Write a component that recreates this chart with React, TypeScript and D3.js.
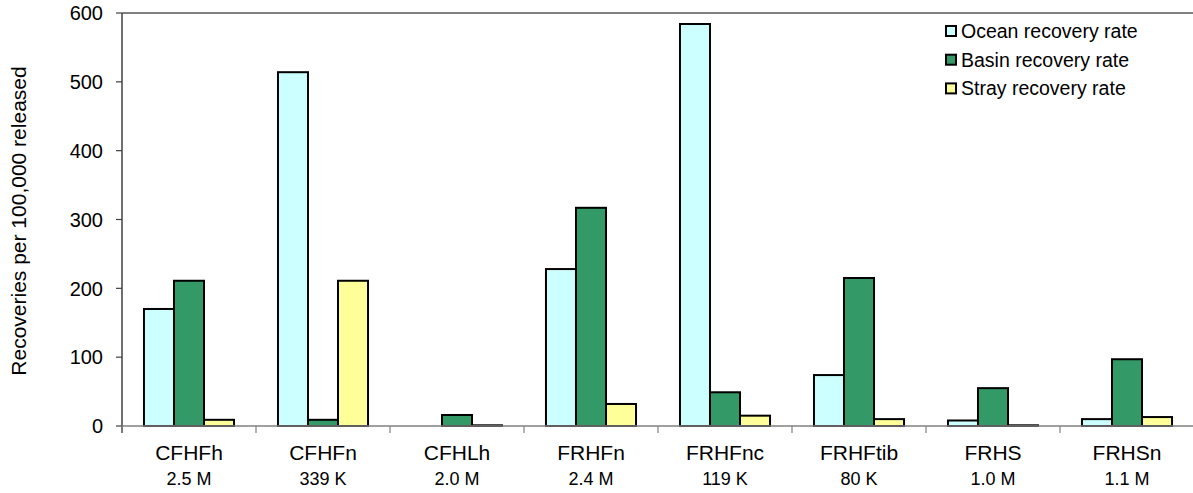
import React from "react";
import * as d3 from "d3";

const categories = ["CFHFh", "CFHFn", "CFHLh", "FRHFn", "FRHFnc", "FRHFtib", "FRHS", "FRHSn"];
const releaseSizes = ["2.5 M", "339 K", "2.0 M", "2.4 M", "119 K", "80 K", "1.0 M", "1.1 M"];
const seriesNames = ["Ocean recovery rate", "Basin recovery rate", "Stray recovery rate"];
const oceanRate = [170, 514, 0, 228, 584, 74, 8, 10];
const basinRate = [211, 9, 16, 317, 49, 215, 55, 97];
const strayRate = [9, 211, 1, 32, 15, 10, 1, 13];
const yTicks = [0, 100, 200, 300, 400, 500, 600];
const seriesColors = ["#CCFFFF", "#339966", "#FFFF99"];

const W = 1193;
const H = 493;
const FONT = "'Liberation Sans', Arial, sans-serif";

export default function App() {
  const left = 122;
  const right = 1194;
  const top = 13;
  const bottom = 426;

  const x0 = d3.scaleBand<string>().domain(categories).range([left, right]).padding(0);
  const bw = x0.bandwidth();
  const x1 = d3.scaleBand<string>().domain(seriesNames).range([bw * 0.164, bw * 0.836]).padding(0);
  const y = d3.scaleLinear().domain([0, 600]).range([bottom, top]);

  const series = [oceanRate, basinRate, strayRate];
  const tickPositions = d3.range(categories.length + 1).map((i) => left + i * bw);

  return (
    <svg
      width={W}
      height={H}
      style={{ position: "absolute", left: 0, top: 0, background: "#fff" }}
      fontFamily={FONT}
    >
      <rect x={0} y={0} width={W} height={H} fill="#fff" />
      {/* top border */}
      <line x1={left} x2={W} y1={y(600)} y2={y(600)} stroke="#808080" strokeWidth={2} />
      {/* bars */}
      {categories.map((c, i) => (
        <g key={c} transform={`translate(${x0(c)},0)`}>
          {series.map((vals, s) => {
            const v = vals[i];
            if (v <= 0) return null;
            return (
              <rect
                key={s}
                x={x1(seriesNames[s])}
                y={y(v)}
                width={x1.bandwidth()}
                height={y(0) - y(v)}
                fill={seriesColors[s]}
                stroke="#000"
                strokeWidth={2}
              />
            );
          })}
        </g>
      ))}
      {/* y axis */}
      <line x1={left} x2={left} y1={y(600)} y2={y(0) + 7} stroke="#404040" strokeWidth={1.5} />
      {yTicks.map((t) => (
        <g key={t}>
          <line x1={left - 6} x2={left} y1={y(t)} y2={y(t)} stroke="#404040" strokeWidth={1.2} />
          <text x={103} y={y(t)} dy="0.36em" textAnchor="end" fontSize={20} fill="#000">
            {t}
          </text>
        </g>
      ))}
      {/* x axis */}
      <line x1={left} x2={W} y1={y(0)} y2={y(0)} stroke="#808080" strokeWidth={1.5} />
      {tickPositions.map((p, i) => (
        <line key={i} x1={p} x2={p} y1={y(0)} y2={y(0) + 7} stroke="#808080" strokeWidth={1.2} />
      ))}
      {categories.map((c, i) => (
        <g key={c}>
          <text x={(x0(c) as number) + bw / 2} y={460} textAnchor="middle" fontSize={21} fill="#000">
            {c}
          </text>
          <text x={(x0(c) as number) + bw / 2} y={485} textAnchor="middle" fontSize={18} fill="#000">
            {releaseSizes[i]}
          </text>
        </g>
      ))}
      {/* y title */}
      <text
        transform={`translate(26,221) rotate(-90)`}
        textAnchor="middle"
        fontSize={21}
        fill="#000"
      >
        Recoveries per 100,000 released
      </text>
      {/* legend */}
      {seriesNames.map((n, i) => {
        const cy = 31 + i * 28.7;
        return (
          <g key={n}>
            <rect x={946} y={cy - 5} width={10} height={10} fill={seriesColors[i]} stroke="#000" strokeWidth={2} />
            <text x={961} y={cy} dy="0.36em" fontSize={19.5} fill="#000">
              {n}
            </text>
          </g>
        );
      })}
    </svg>
  );
}
